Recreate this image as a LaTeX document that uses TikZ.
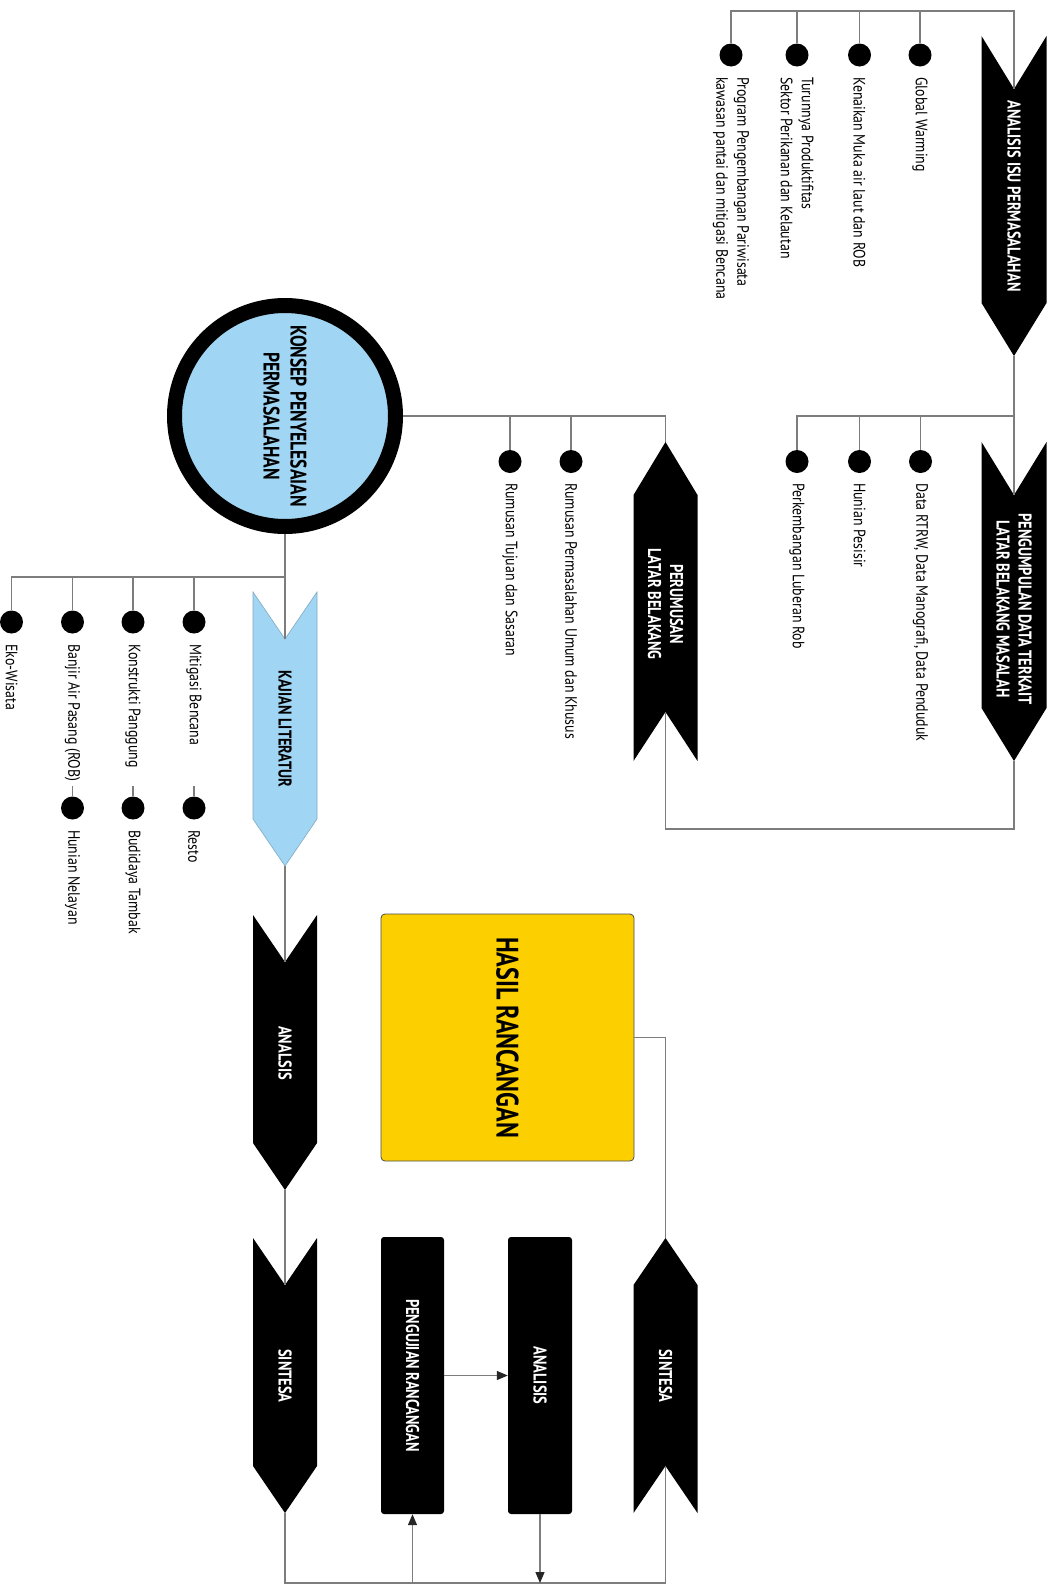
\documentclass[tikz,border=0pt]{standalone}
\usepackage{fontspec}
\setmainfont{PT Sans}[FakeStretch=0.84]
\newfontfamily\headfont{PT Sans}[FakeStretch=0.78]
\usetikzlibrary{arrows.meta}
\definecolor{linegray}{RGB}{125,125,125}
\definecolor{kblue}{RGB}{160,213,243}
\definecolor{kyellow}{RGB}{252,208,0}

\begin{document}
\begin{tikzpicture}[x=1pt,y=-1pt,
		conn/.style={draw=linegray,line width=1.3pt},
		arr/.style={conn,-{Triangle[length=11pt,width=9pt,color=black!85]}},
		dot/.style={circle,fill=black,minimum size=23pt,inner sep=0pt},
		lbl/.style={rotate=-90,anchor=west,align=left,inner sep=0pt,font=\fontsize{16.5}{21}\selectfont},
		chevtxt/.style={rotate=-90,align=center,text=white,inner sep=0pt,font=\headfont\bfseries\fontsize{18.5}{22}\selectfont},
		darkbox/.style={fill=black,rounded corners=3pt,inner sep=0pt}]
		\useasboundingbox (0,0) rectangle (1050,1585);

		% Draw chevrons.
		\fill[black] (981.5,36) -- (1014,89) -- (1046.5,36) -- (1046.5,303) -- (1014,356) -- (981.5,303) -- cycle;
		\coordinate (ais-in) at (1014,89);
		\coordinate (ais-out) at (1014,356);
		\node[chevtxt] (ais) at (1014,196) {ANALISIS ISU PERMASALAHAN};

		\fill[black] (981.5,442) -- (1014,495) -- (1046.5,442) -- (1046.5,708) -- (1014,761) -- (981.5,708) -- cycle;
		\coordinate (pdt-in) at (1014,495);
		\coordinate (pdt-out) at (1014,761);
		\node[chevtxt] (pdt) at (1014,609) {PENGUMPULAN DATA TERKAIT\\LATAR BELAKANG MASALAH};

		\fill[black] (665.5,442) -- (697.5,495) -- (697.5,761) -- (665.5,712) -- (633.5,761) -- (633.5,495) -- cycle;
		\coordinate (plb-in) at (665.5,712);
		\coordinate (plb-out) at (665.5,442);
		\node[chevtxt] (plb) at (665.5,604) {PERUMUSAN\\LATAR BELAKANG};

		\filldraw[fill=kblue,draw=kblue!80!black,line width=0.6pt] (253,592) -- (285,639) -- (317,592) -- (317,819) -- (285,866) -- (253,819) -- cycle;
		\coordinate (kaj-in) at (285,639);
		\coordinate (kaj-out) at (285,866);
		\node[chevtxt,text=black] (kaj) at (285,729) {KAJIAN LITERATUR};

		\fill[black] (253,915) -- (285,962) -- (317,915) -- (317,1143) -- (285,1190) -- (253,1143) -- cycle;
		\coordinate (ana-in) at (285,962);
		\coordinate (ana-out) at (285,1190);
		\node[chevtxt] (ana) at (285,1053) {ANALSIS};

		\fill[black] (253,1238) -- (285,1285) -- (317,1238) -- (317,1466) -- (285,1513) -- (253,1466) -- cycle;
		\coordinate (sinl-in) at (285,1285);
		\coordinate (sinl-out) at (285,1513);
		\node[chevtxt] (sinl) at (285,1376) {SINTESA};

		\fill[black] (665.5,1238) -- (697.5,1285) -- (697.5,1513) -- (665.5,1466) -- (633.5,1513) -- (633.5,1285) -- cycle;
		\coordinate (sinr-in) at (665.5,1466);
		\coordinate (sinr-out) at (665.5,1238);
		\node[chevtxt] (sinr) at (665.5,1376) {SINTESA};

		% Draw circle and boxes.
		\node[circle,draw=black,line width=15pt,fill=kblue,minimum size=221pt,inner sep=0pt] (konsep) at (285,416) {};
		\node[chevtxt,text=black,font=\headfont\bfseries\fontsize{22.5}{27}\selectfont] (konsep-t) at (konsep) {KONSEP PENYELESAIAN\\PERMASALAHAN};

		\node[fill=kyellow,draw=black!70,line width=0.8pt,rounded corners=4pt,minimum width=253pt,minimum height=247pt] (hasil) at (507.5,1037.5) {};
		\node[chevtxt,text=black,font=\headfont\bfseries\fontsize{31}{36}\selectfont] (hasil-t) at (hasil) {HASIL RANCANGAN};

		\node[darkbox,minimum width=63pt,minimum height=277pt] (uji) at (412.5,1375.5) {};
		\node[chevtxt] (uji-t) at (uji) {PENGUJIAN RANCANGAN};
		\node[darkbox,minimum width=64pt,minimum height=277pt] (anb) at (540,1375.5) {};
		\node[chevtxt] (anb-t) at (anb) {ANALISIS};

		% Draw dots and labels.
		\node[dot] (g1) at (920,55) {};
		\node[dot] (g2) at (859.5,55) {};
		\node[dot] (g3) at (797,55) {};
		\node[dot] (g4) at (731,55) {};
		\node[lbl] (g1-t) at (920,77) {Global Warming};
		\node[lbl] (g2-t) at (859.5,77) {Kenaikan Muka air laut dan ROB};
		\node[lbl] (g3-t) at (797,77) {Turunnya Produktifitas\\Sektor Perikanan dan Kelautan};
		\node[lbl] (g4-t) at (731,77) {Program Pengembangan Pariwisata\\kawasan pantai dan mitigasi Bencana};

		\node[dot] (h1) at (920.5,461.5) {};
		\node[dot] (h2) at (859.5,461.5) {};
		\node[dot] (h3) at (797,461.5) {};
		\node[lbl] (h1-t) at (920.5,483) {Data RTRW, Data Manografi, Data Penduduk};
		\node[lbl] (h2-t) at (859.5,483) {Hunian Pesisir};
		\node[lbl] (h3-t) at (797,483) {Perkembangan Luberan Rob};

		\node[dot] (r1) at (571,461.5) {};
		\node[dot] (r2) at (510,461.5) {};
		\node[lbl] (r1-t) at (571,483) {Rumusan Permasalahan Umum dan Khusus};
		\node[lbl] (r2-t) at (510,483) {Rumusan Tujuan dan Sasaran};

		\node[dot] (k1) at (194,622) {};
		\node[dot] (k2) at (133,622) {};
		\node[dot] (k3) at (72.5,622) {};
		\node[dot] (k4) at (11.5,622) {};
		\node[lbl] (k1-t) at (194,644) {Mitigasi Bencana};
		\node[lbl] (k2-t) at (133,644) {Konstrukti Panggung};
		\node[lbl] (k3-t) at (72.5,644) {Banjir Air Pasang (ROB)};
		\node[lbl] (k4-t) at (11.5,644) {Eko-Wisata};

		\node[dot] (k5) at (194,808) {};
		\node[dot] (k6) at (133,808) {};
		\node[dot] (k7) at (72.5,808) {};
		\node[lbl] (k5-t) at (194,830) {Resto};
		\node[lbl] (k6-t) at (133,830) {Budidaya Tambak};
		\node[lbl] (k7-t) at (72.5,830) {Hunian Nelayan};

		% Draw connectors.
		\coordinate (aisbar) at (1014,11);
		\draw[conn] (ais-in) -- (aisbar) -| (g4);
		\foreach \n in {g1,g2,g3}
			\draw[conn] (\n |- aisbar) -- (\n);

		\coordinate (pdtbar) at (1014,416);
		\draw[conn] (ais-out) -- (pdt-in);
		\draw[conn] (pdtbar) -| (h3);
		\foreach \n in {h1,h2}
			\draw[conn] (\n |- pdtbar) -- (\n);

		\coordinate (plbloop) at (665.5,829);
		\draw[conn] (pdt-out) |- (plbloop) -- (plb-in);
		\draw[conn] (plb-out) |- (konsep.east);
		\foreach \n in {r1,r2}
			\draw[conn] (\n |- konsep.east) -- (\n);

		\coordinate (kajbar) at (285,577);
		\draw[conn] (konsep.south) -- (kaj-in);
		\draw[conn] (kajbar) -| (k4);
		\foreach \n in {k1,k2,k3}
			\draw[conn] (\n |- kajbar) -- (\n);
		\foreach \n in {k5,k6,k7}
			\draw[conn] (\n.north) -- ++(0,-10);

		\draw[conn] (kaj-out) -- (ana-in);
		\draw[conn] (ana-out) -- (sinl-in);

		\coordinate (botl) at (285,1583);
		\coordinate (botr) at (665.5,1583);
		\draw[conn] (sinl-out) -- (botl) -- (botr) -- (sinr-in);
		\draw[conn] (sinr-out) |- (hasil.east);

		\draw[arr] (uji.east) -- (anb.west);
		\draw[arr] (anb.south) -- (anb |- botl);
		\draw[arr] (uji |- botl) -- (uji.south);
	\end{tikzpicture}
\end{document}
